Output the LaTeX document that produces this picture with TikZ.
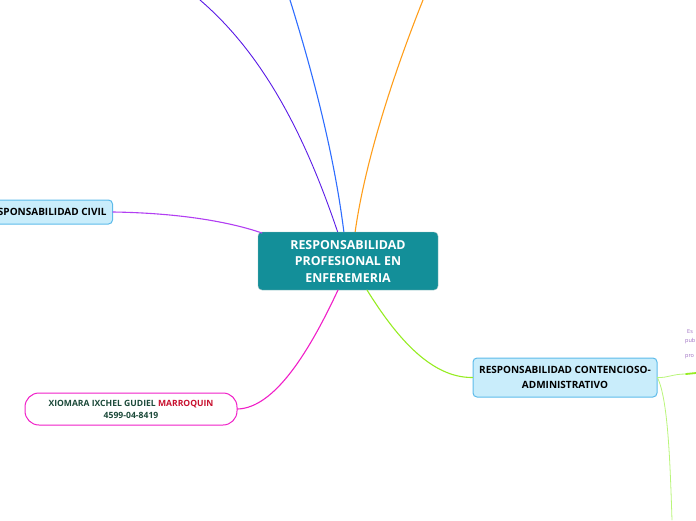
\documentclass[tikz,border=0pt]{standalone}
\usepackage{fontspec}
\setmainfont{Open Sans}
\begin{document}
\begin{tikzpicture}[x=1pt,y=-1pt,
  central/.style={draw=teal!70!black!40, fill=cteal, rounded corners=4pt, minimum width=180pt, minimum height=58pt, align=center, text=white, font=\fontsize{12.4}{16.5}\selectfont\bfseries, inner sep=0pt},
  topic/.style={draw=cborder, line width=1pt, fill=cfill, rounded corners=4pt, align=center, font=\fontsize{10}{14.5}\selectfont\bfseries, inner sep=0pt},
  conn/.style={line width=1.1pt, line cap=round}]
\definecolor{cteal}{HTML}{138F99}
\definecolor{cfill}{HTML}{C9EDFB}
\definecolor{cborder}{HTML}{5DBBEA}
\definecolor{cpurple}{HTML}{B23EF2}
\definecolor{cindigo}{HTML}{5A1BE6}
\definecolor{cblue}{HTML}{2E6DFF}
\definecolor{corange}{HTML}{FF9E1B}
\definecolor{cmagenta}{HTML}{F01FC8}
\definecolor{cgreen}{HTML}{96EC22}
\definecolor{clgreen}{HTML}{B9F57A}
\definecolor{cdkgreen}{HTML}{1C4A3A}
\definecolor{cred}{HTML}{C8102E}
\definecolor{cviolet}{HTML}{9B6BC0}
\useasboundingbox (0,0) rectangle (696,520);
\clip (0,0) rectangle (696,520);
% connectors
\coordinate (t1) at (200,0);
\coordinate (t2) at (290,0);
\coordinate (t3) at (423,0);
\coordinate (c1) at (338,233);
\coordinate (c2) at (344,233);
\coordinate (c3) at (355,233);
\coordinate (c4) at (262,233);
\coordinate (c5) at (338,290);
\coordinate (c6) at (367,290);
\draw[conn, cindigo, line width=0.9pt] (t1) .. controls (270,60) and (310,150) .. (c1);
\draw[conn, cblue] (t2) .. controls (315,80) and (335,160) .. (c2);
\draw[conn, corange] (t3) .. controls (395,70) and (365,160) .. (c3);
% nodes
\node[central] (main) at (348,261) {RESPONSABILIDAD\\PROFESIONAL EN\\ENFEREMERIA};
\node[topic, minimum height=24pt, inner xsep=6pt, anchor=east] (civil) at (113,212) {RESPONSABILIDAD CIVIL};
\node[topic, minimum width=184pt, minimum height=39pt] (cont) at (565,377.5) {RESPONSABILIDAD CONTENCIOSO-\\ADMINISTRATIVO};
\node[draw=cmagenta, line width=1pt, fill=white, rounded corners=14pt, minimum width=212pt, minimum height=32pt, align=center, inner sep=0pt, font=\fontsize{8.6}{12}\selectfont\bfseries, text=cdkgreen] (xio) at (131,409) {XIOMARA IXCHEL GUDIEL \textcolor{cred}{MARROQUIN}\\4599-04-8419};
\draw[conn, cpurple] (civil.east) .. controls (180,213) and (230,222) .. (c4);
\draw[conn, cmagenta] (c5) .. controls (310,350) and (275,408) .. (xio.east);
\draw[conn, cgreen] (c6) .. controls (395,335) and (430,378) .. (cont.west);
% right side branches
\coordinate (r1) at (696,373);
\coordinate (r2) at (672,520);
\draw[conn, clgreen, line width=0.8pt] (cont.east) .. controls (668,378) and (672,374) .. (686,374);
\draw[conn, cgreen, line width=1.8pt] (686,374) -- (r1);
\draw[conn, clgreen, line width=0.8pt] (cont.east) .. controls (668,400) and (670,460) .. (r2);
% clipped fragments of text
\node[anchor=west, text=cviolet, font=\fontsize{5.5}{6}\selectfont, inner sep=0pt] (f1) at (687,332) {Es};
\node[anchor=west, text=cviolet, font=\fontsize{5.5}{6}\selectfont, inner sep=0pt] (f2) at (685,341) {pub};
\node[anchor=west, text=cviolet, font=\fontsize{5.5}{6}\selectfont, inner sep=0pt] (f3) at (685,357) {pro};
\end{tikzpicture}
\end{document}
